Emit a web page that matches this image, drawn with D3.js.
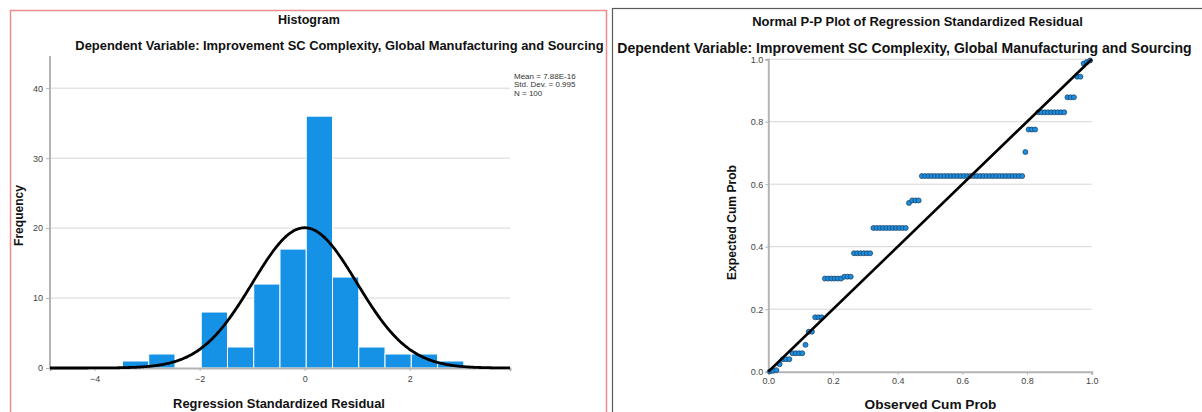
<!DOCTYPE html>
<html>
<head>
<meta charset="utf-8">
<script src="https://cdn.jsdelivr.net/npm/d3@7"></script>
<style>
  body { margin: 0; background: #fff; }
  svg { display: block; font-family: "Liberation Sans", Arial, sans-serif; }
</style>
</head>
<body>
<svg id="chart"></svg>
<script>
// histogram data
const binStart = -3.47, binWidth = 0.5;
const binCounts = [1, 2, 0, 8, 3, 12, 17, 36, 13, 3, 2, 2, 1];
const histMean = 7.88e-16, histSd = 0.995, histN = 100;
const legendLines = ["Mean = 7.88E-16", "Std. Dev. = 0.995", "N = 100"];
const histYTicks = [0, 10, 20, 30, 40];
const histXTicks = [-4, -2, 0, 2];

// P-P plot data
const ppTicks = [0.0, 0.2, 0.4, 0.6, 0.8, 1.0];
const observedCumProb = [
  0.005, 0.015, 0.025, 0.035, 0.045, 0.055, 0.065, 0.075, 0.085, 0.095,
  0.105, 0.115, 0.125, 0.135, 0.145, 0.155, 0.165, 0.175, 0.185, 0.195,
  0.205, 0.215, 0.225, 0.235, 0.245, 0.255, 0.265, 0.275, 0.285, 0.295,
  0.305, 0.315, 0.325, 0.335, 0.345, 0.355, 0.365, 0.375, 0.385, 0.395,
  0.405, 0.415, 0.425, 0.435, 0.445, 0.455, 0.465, 0.475, 0.485, 0.495,
  0.505, 0.515, 0.525, 0.535, 0.545, 0.555, 0.565, 0.575, 0.585, 0.595,
  0.605, 0.615, 0.625, 0.635, 0.645, 0.655, 0.665, 0.675, 0.685, 0.695,
  0.705, 0.715, 0.725, 0.735, 0.745, 0.755, 0.765, 0.775, 0.785, 0.795,
  0.805, 0.815, 0.825, 0.835, 0.845, 0.855, 0.865, 0.875, 0.885, 0.895,
  0.905, 0.915, 0.925, 0.935, 0.945, 0.955, 0.965, 0.975, 0.985, 0.995
];
const expectedCumProb = [
  0.001, 0.003, 0.005,
  0.024,
  0.040, 0.040, 0.040,
  0.059, 0.059, 0.059, 0.059,
  0.086,
  0.128, 0.128,
  0.174, 0.174, 0.174,
  0.298, 0.298, 0.298, 0.298, 0.298, 0.298,
  0.304, 0.304, 0.304,
  0.379, 0.379, 0.379, 0.379, 0.379, 0.379,
  0.460, 0.460, 0.460, 0.460, 0.460, 0.460, 0.460, 0.460, 0.460, 0.460, 0.460,
  0.540,
  0.548, 0.548, 0.548,
  0.626, 0.626, 0.626, 0.626, 0.626, 0.626, 0.626, 0.626,
  0.626, 0.626, 0.626, 0.626, 0.626, 0.626, 0.626, 0.626,
  0.626, 0.626, 0.626, 0.626, 0.626, 0.626, 0.626, 0.626,
  0.626, 0.626, 0.626, 0.626, 0.626, 0.626, 0.626, 0.626,
  0.703,
  0.775, 0.775, 0.775,
  0.830, 0.830, 0.830, 0.830, 0.830, 0.830, 0.830, 0.830, 0.830,
  0.878, 0.878, 0.878,
  0.944, 0.944,
  0.986, 0.991, 0.996
];

const titleLeft = "Histogram";
const titleRight = "Normal P-P Plot of Regression Standardized Residual";
const subtitle = "Dependent Variable: Improvement SC Complexity, Global Manufacturing and Sourcing";

const W = 1202, H = 412;
const svg = d3.select("#chart").attr("width", W).attr("height", H);

const barColor = "#1591e6";
const gridColor = "#d6d6d6";
const axisColor = "#b4b4b4";
const tickText = "#444";

// stretch a text element's font size so it covers a given width
function fitText(sel, width) {
  const w = sel.node().getComputedTextLength();
  const fs = parseFloat(sel.attr("font-size"));
  sel.attr("font-size", fs * width / w);
  return sel;
}

// panel frames
svg.append("rect")
  .attr("x", 10.5).attr("y", 10.5).attr("width", 596).attr("height", 420)
  .attr("fill", "none").attr("stroke", "#f08c8c").attr("stroke-width", 1.5);
svg.append("rect")
  .attr("x", 612.5).attr("y", 8.5).attr("width", 620).attr("height", 420)
  .attr("fill", "none").attr("stroke", "#5a5a5a").attr("stroke-width", 1.2);

// ---------------- Histogram ----------------
const hx = d3.scaleLinear().domain([-4.85, 3.91]).range([50, 510]);
const hy = d3.scaleLinear().domain([0, 44.6]).range([368, 56]);

const hg = svg.append("g");

hg.selectAll(".hgrid").data(histYTicks.filter(d => d > 0)).join("line")
  .attr("x1", hx.range()[0]).attr("x2", hx.range()[1])
  .attr("y1", d => hy(d)).attr("y2", d => hy(d))
  .attr("stroke", gridColor).attr("stroke-width", 1);

hg.selectAll(".bar").data(binCounts).join("rect")
  .attr("x", (d, i) => hx(binStart + i * binWidth))
  .attr("width", (d, i) => hx(binStart + (i + 1) * binWidth) - hx(binStart + i * binWidth))
  .attr("y", d => hy(d))
  .attr("height", d => hy(0) - hy(d))
  .attr("fill", barColor)
  .attr("stroke", "#fff").attr("stroke-width", 1);

// y axis
const hyAxis = hg.append("g").attr("transform", "translate(50,0)")
  .call(d3.axisLeft(hy).tickValues(histYTicks).tickSize(4).tickPadding(3));
hyAxis.select(".domain").remove();
hyAxis.selectAll(".tick line").attr("stroke", axisColor);
hyAxis.selectAll(".tick text").attr("font-size", 9).attr("fill", tickText).attr("font-family", null);
hg.append("line").attr("x1", 50).attr("x2", 50).attr("y1", 56).attr("y2", 369)
  .attr("stroke", axisColor).attr("stroke-width", 2);

// x axis
const hxAxis = hg.append("g").attr("transform", "translate(0,368)")
  .call(d3.axisBottom(hx).tickValues(histXTicks).tickSize(3).tickPadding(5).tickFormat(d3.format("d")));
hxAxis.select(".domain").attr("stroke", axisColor).attr("stroke-width", 2);
hxAxis.selectAll(".tick line").attr("stroke", axisColor);
hxAxis.selectAll(".tick text").attr("font-size", 9).attr("fill", tickText).attr("font-family", null);

// normal curve from the stated mean / sd
const curveXs = d3.range(hx.domain()[0], hx.domain()[1] + 0.001, 0.02);
const normalLine = d3.line()
  .x(d => hx(d))
  .y(d => hy(histN * binWidth * Math.exp(-0.5 * ((d - histMean) / histSd) ** 2) / (histSd * Math.sqrt(2 * Math.PI))));
hg.append("path").datum(curveXs)
  .attr("d", normalLine)
  .attr("fill", "none").attr("stroke", "#000").attr("stroke-width", 2.8);

// legend
hg.selectAll(".leg").data(legendLines).join("text")
  .attr("x", 514).attr("y", (d, i) => 78.5 + i * 8.7)
  .attr("font-size", 8).attr("fill", "#333")
  .text(d => d);

// titles
hg.append("text").attr("x", 309).attr("y", 23.5).attr("text-anchor", "middle")
  .attr("font-size", 12.5).attr("font-weight", "bold").attr("fill", "#111").text(titleLeft);
fitText(hg.append("text").attr("x", 339.5).attr("y", 49.5).attr("text-anchor", "middle")
  .attr("font-size", 12).attr("font-weight", "bold").attr("fill", "#111").text(subtitle), 529);
fitText(hg.append("text").attr("x", 279).attr("y", 407.5).attr("text-anchor", "middle")
  .attr("font-size", 12).attr("font-weight", "bold").attr("fill", "#111").text("Regression Standardized Residual"), 212);
fitText(hg.append("text").attr("transform", "translate(22.5,215.5) rotate(-90)").attr("text-anchor", "middle")
  .attr("font-size", 11).attr("font-weight", "bold").attr("fill", "#111").text("Frequency"), 61);

// ---------------- Normal P-P plot ----------------
const px = d3.scaleLinear().domain([0, 1]).range([768.3, 1091.7]);
const py = d3.scaleLinear().domain([0, 1]).range([371.7, 59.2]);

const pg = svg.append("g");

pg.selectAll(".pgrid").data(ppTicks.filter(d => d > 0)).join("line")
  .attr("x1", px(0)).attr("x2", px(1))
  .attr("y1", d => py(d)).attr("y2", d => py(d))
  .attr("stroke", gridColor).attr("stroke-width", 1);

const pyAxis = pg.append("g").attr("transform", `translate(${px(0)},0)`)
  .call(d3.axisLeft(py).tickValues(ppTicks).tickSize(3).tickPadding(2).tickFormat(d3.format(".1f")));
pyAxis.select(".domain").attr("stroke", axisColor).attr("stroke-width", 2);
pyAxis.selectAll(".tick line").attr("stroke", axisColor);
pyAxis.selectAll(".tick text").attr("font-size", 9).attr("fill", tickText).attr("font-family", null);

const pxAxis = pg.append("g").attr("transform", `translate(0,${py(0)})`)
  .call(d3.axisBottom(px).tickValues(ppTicks).tickSize(3).tickPadding(3).tickFormat(d3.format(".1f")));
pxAxis.select(".domain").attr("stroke", axisColor).attr("stroke-width", 2);
pxAxis.selectAll(".tick line").attr("stroke", axisColor);
pxAxis.selectAll(".tick text").attr("font-size", 9).attr("fill", tickText).attr("font-family", null);

const ppPoints = observedCumProb.map((o, i) => ({ o, e: expectedCumProb[i] }));
pg.selectAll(".dot").data(ppPoints).join("circle")
  .attr("cx", d => px(d.o)).attr("cy", d => py(d.e))
  .attr("r", 2.5)
  .attr("fill", "#1a8fe0")
  .attr("stroke", "#1b3a5c").attr("stroke-width", 0.7);

pg.append("line")
  .attr("x1", px(0)).attr("y1", py(0)).attr("x2", px(1)).attr("y2", py(1))
  .attr("stroke", "#000").attr("stroke-width", 2.6);

fitText(pg.append("text").attr("x", 917.5).attr("y", 25.5).attr("text-anchor", "middle")
  .attr("font-size", 13).attr("font-weight", "bold").attr("fill", "#111").text(titleRight), 331);
fitText(pg.append("text").attr("x", 904.5).attr("y", 52.5).attr("text-anchor", "middle")
  .attr("font-size", 13).attr("font-weight", "bold").attr("fill", "#111").text(subtitle), 575);
fitText(pg.append("text").attr("x", 930.5).attr("y", 408.5).attr("text-anchor", "middle")
  .attr("font-size", 13).attr("font-weight", "bold").attr("fill", "#111").text("Observed Cum Prob"), 132);
fitText(pg.append("text").attr("transform", "translate(736,222.5) rotate(-90)").attr("text-anchor", "middle")
  .attr("font-size", 12).attr("font-weight", "bold").attr("fill", "#111").text("Expected Cum Prob"), 115);
</script>
</body>
</html>
